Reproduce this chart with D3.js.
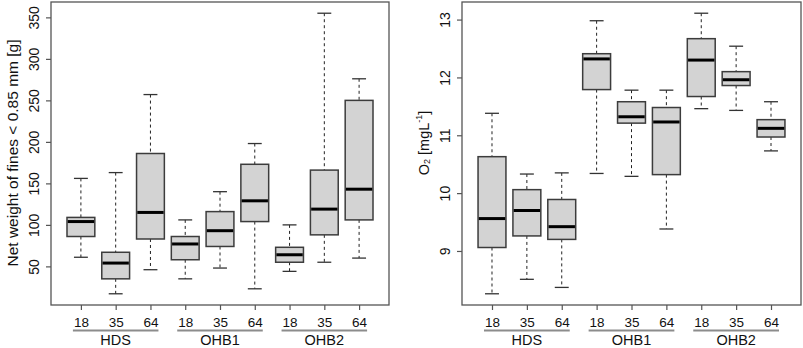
<!DOCTYPE html>
<html>
<head>
<meta charset="utf-8">
<script src="https://cdn.jsdelivr.net/npm/d3@7"></script>
<style>
  body { margin: 0; background: #fff; }
  svg { font-family: "Liberation Sans", Arial, sans-serif; display: block; }
</style>
</head>
<body>
<div class="graph"></div>
<script>
// categories
var groups = ['HDS', 'OHB1', 'OHB2'];
var depths = ['18', '35', '64'];

// left panel: net weight of fines < 0.85 mm [g], 9 boxes (group x depth)
var finesMin = [61, 17, 46, 35, 48, 23, 44, 55, 60];
var finesQ1  = [86, 35, 83, 58, 74, 104, 55, 88, 106];
var finesMed = [104, 54, 115, 77, 93, 129, 64, 119, 143];
var finesQ3  = [109, 67, 186, 86, 116, 173, 73, 166, 250];
var finesMax = [156, 163, 257, 106, 140, 198, 100, 355, 276];
var finesTicks = [50, 100, 150, 200, 250, 300, 350];

// right panel: O2 [mg/L]
var o2Min = [8.26, 8.51, 8.37, 10.34, 10.29, 9.38, 11.46, 11.43, 10.73];
var o2Q1  = [9.06, 9.26, 9.20, 11.79, 11.21, 10.32, 11.67, 11.86, 10.97];
var o2Med = [9.56, 9.70, 9.42, 12.32, 11.32, 11.23, 12.30, 11.96, 11.12];
var o2Q3  = [10.63, 10.06, 9.89, 12.41, 11.58, 11.48, 12.67, 12.10, 11.27];
var o2Max = [11.38, 10.33, 10.35, 12.98, 11.78, 11.78, 13.11, 12.54, 11.58];
var o2Ticks = [9, 10, 11, 12, 13];

var width = 803,
    height = 348;

var svg = d3.select('div.graph')
    .append('svg')
        .attr('width', width)
        .attr('height', height);

function panel(opt) {
    var n = groups.length * depths.length;
    var x = d3.scaleLinear()
        .domain([0.5 - 0.04 * n, n + 0.5 + 0.04 * n])
        .range([opt.left, opt.right]);

    var lo = d3.min(opt.min), hi = d3.max(opt.max), pad = (hi - lo) * 0.04;
    var y = d3.scaleLinear()
        .domain([lo - pad, hi + pad])
        .range([opt.bottom, opt.top]);

    var g = svg.append('g');

    var rows = d3.range(n).map((i) => ({
        i: i,
        min: opt.min[i], q1: opt.q1[i], med: opt.med[i], q3: opt.q3[i], max: opt.max[i]
    }));

    var step = x(2) - x(1);
    var bw = step * 0.8;

    var box = g.selectAll('g.box')
        .data(rows)
        .enter()
        .append('g')
            .attr('class', 'box')
            .attr('transform', (d) => 'translate(' + x(d.i + 1) + ',0)');

    // whiskers
    box.append('line')
        .attr('y1', (d) => y(d.max)).attr('y2', (d) => y(d.q3))
        .attr('stroke', '#222').attr('stroke-dasharray', '3,3');
    box.append('line')
        .attr('y1', (d) => y(d.q1)).attr('y2', (d) => y(d.min))
        .attr('stroke', '#222').attr('stroke-dasharray', '3,3');
    // staples
    box.selectAll('line.cap')
        .data((d) => [d.min, d.max])
        .enter()
        .append('line')
            .attr('class', 'cap')
            .attr('x1', -bw / 4).attr('x2', bw / 4)
            .attr('y1', (v) => y(v)).attr('y2', (v) => y(v))
            .attr('stroke', '#333').attr('stroke-width', 1.3);
    // box
    box.append('rect')
        .attr('x', -bw / 2)
        .attr('width', bw)
        .attr('y', (d) => y(d.q3))
        .attr('height', (d) => y(d.q1) - y(d.q3))
        .attr('fill', '#d3d3d3')
        .attr('stroke', '#3c3c3c')
        .attr('stroke-width', 1.5);
    // median
    box.append('line')
        .attr('x1', -bw / 2 + 0.75).attr('x2', bw / 2 - 0.75)
        .attr('y1', (d) => y(d.med)).attr('y2', (d) => y(d.med))
        .attr('stroke', '#000').attr('stroke-width', 3);

    // frame
    g.append('rect')
        .attr('x', opt.left).attr('y', opt.top)
        .attr('width', opt.right - opt.left)
        .attr('height', opt.bottom - opt.top)
        .attr('fill', 'none')
        .attr('stroke', '#555')
        .attr('stroke-width', 1.3);

    // y axis
    var ya = g.append('g')
        .attr('transform', 'translate(' + opt.left + ',0)')
        .call(d3.axisLeft(y).tickValues(opt.ticks).tickSize(5).tickFormat(d3.format('d')));
    ya.select('.domain').remove();
    ya.selectAll('.tick line').attr('stroke', '#555').attr('stroke-width', 1.2);
    ya.selectAll('.tick text')
        .attr('x', null).attr('dy', null)
        .attr('transform', 'translate(-17,0) rotate(-90)')
        .attr('text-anchor', 'middle')
        .attr('dominant-baseline', 'central')
        .attr('fill', '#111')
        .style('font-size', '14px')
        .style('font-family', null);

    // x axis
    var xa = g.append('g')
        .attr('transform', 'translate(0,' + opt.bottom + ')')
        .call(d3.axisBottom(x).tickValues(d3.range(1, n + 1)).tickSize(5)
            .tickFormat((d) => depths[(d - 1) % depths.length]));
    xa.select('.domain').remove();
    xa.selectAll('.tick line').attr('stroke', '#555').attr('stroke-width', 1.2);
    xa.selectAll('.tick text')
        .attr('y', 17).attr('dy', null)
        .attr('dominant-baseline', 'central')
        .attr('fill', '#111')
        .style('font-size', '13.5px')
        .style('font-family', null);

    // group underlines and names
    var grp = g.selectAll('g.grp')
        .data(groups)
        .enter()
        .append('g')
            .attr('class', 'grp');
    grp.append('line')
        .attr('x1', (d, i) => x(i * 3 + 1) - 8)
        .attr('x2', (d, i) => x(i * 3 + 3) + 8)
        .attr('y1', 330.5).attr('y2', 330.5)
        .attr('stroke', '#8c8c8c')
        .attr('stroke-width', 1.8);
    grp.append('text')
        .attr('x', (d, i) => x(i * 3 + 2))
        .attr('y', 339.5)
        .attr('text-anchor', 'middle')
        .attr('dominant-baseline', 'central')
        .style('font-size', '14.5px')
        .attr('fill', '#111')
        .text((d) => d);

    return g;
}

var left = panel({
    left: 51, right: 389, top: 2, bottom: 305,
    min: finesMin, q1: finesQ1, med: finesMed, q3: finesQ3, max: finesMax,
    ticks: finesTicks
});
left.append('text')
    .attr('transform', 'translate(12,153) rotate(-90)')
    .attr('text-anchor', 'middle')
    .attr('dominant-baseline', 'central')
    .style('font-size', '15.5px')
    .attr('fill', '#111')
    .text('Net weight of fines < 0.85 mm [g]');

var right = panel({
    left: 462, right: 801, top: 2, bottom: 305,
    min: o2Min, q1: o2Q1, med: o2Med, q3: o2Q3, max: o2Max,
    ticks: o2Ticks
});
var ylab = right.append('text')
    .attr('transform', 'translate(424,143) rotate(-90)')
    .attr('text-anchor', 'middle')
    .attr('dominant-baseline', 'central')
    .style('font-size', '14.5px')
    .attr('fill', '#111');
ylab.append('tspan').text('O');
ylab.append('tspan').attr('dy', 3).style('font-size', '9px').text('2');
ylab.append('tspan').attr('dy', -3).text(' [mgL');
ylab.append('tspan').attr('dy', -5).style('font-size', '9px').text('-1');
ylab.append('tspan').attr('dy', 5).text(']');
</script>
</body>
</html>
